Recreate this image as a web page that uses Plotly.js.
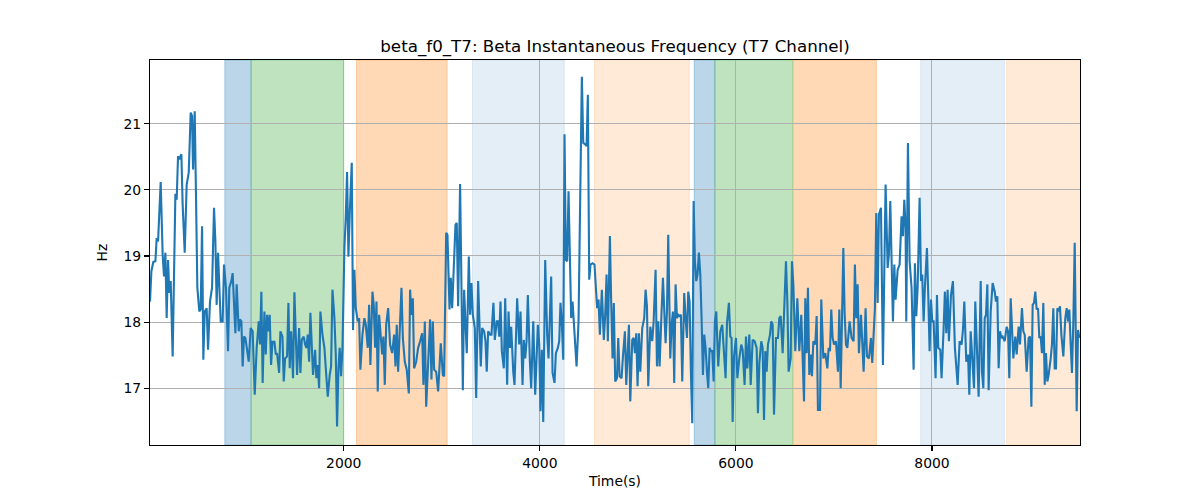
<!DOCTYPE html>
<html>
<head>
<meta charset="utf-8">
<script src="https://cdn.plot.ly/plotly-3.0.1.min.js"></script>
<style>html,body{margin:0;padding:0;background:#fff;}#chart{width:1200px;height:500px;}</style>
</head>
<body>
<div id="chart"></div>
<script>
// time (s) of each sample
const time = [
24,38,58,79,92,106,133,153,167,181,194,208,221,235,255,283,296,310,323,344,357,378,398,419,439,453,463,480,493,507,527,541,555,568,582,602,616,636,657,677,691,704,718,731,745,765,779,799,820,833,854,867,881,895,908,929,942,956,969,983,997,1010,1031,1051,1071,1092,1112,1133,1146,1160,1173,
1191,1205,1218,1232,1245,1259,1273,1293,1307,1320,1341,1354,1375,1388,1402,1422,1436,1449,1463,1483,1497,1511,1524,1545,1558,1572,1592,1606,1619,1633,1647,1660,1674,1687,1708,1721,1735,1749,1762,1783,1803,1823,1837,1857,1871,1885,1905,1919,1932,1946,1959,1973,1987,2007,2021,2034,2048,2061,2082,2095,2109,2123,2143,2157,2170,2191,2211,2225,2245,2259,2272,2293,2306,2320,2334,2347,2361,2374,
2392,2405,2419,2433,2453,2473,2494,2514,2528,2541,2555,2575,2589,2603,2623,2643,2664,2677,2691,2705,2718,2739,2759,2779,2800,2813,2827,2841,2861,2881,2895,2909,2922,2943,2963,2977,2990,3011,3024,3045,3058,3079,3092,3106,3126,3140,3153,3167,3187,3201,3215,3228,3242,3255,3276,3289,3303,3317,3337,3351,3371,3385,3398,3412,3432,3446,3459,3473,3493,3507,3527,3541,3561,3575,
3586,3599,3613,3633,3647,3667,3681,3695,3708,3729,3742,3769,3790,3803,3824,3837,3851,3865,3878,3899,3912,3933,3953,3980,3994,4007,4021,4035,4055,4075,4089,4116,4130,4150,4164,4184,4198,4211,4225,4239,4252,4266,4279,4293,4307,4320,4334,4354,4375,4395,4415,4429,4443,4463,4477,4490,4504,4517,4538,4558,4572,4585,4599,4613,4633,4653,4667,4681,4694,4715,4728,4742,4755,4769,
4787,4800,4814,4834,4848,4868,4882,4895,4909,4923,4943,4957,4970,4984,4997,5011,5025,5045,5065,5079,5093,5106,5127,5147,5161,5181,5195,5208,5222,5242,5256,5283,5297,5310,5331,5344,5358,5371,5385,5399,5412,5426,5439,5453,5473,5487,5501,5514,5528,5541,5555,5569,5582,5596,5609,5623,5637,5650,5664,5677,5691,5705,5718,5732,5745,5759,5773,5786,5800,5820,5841,5861,5875,5895,5909,5929,5943,5956,
5967,5981,6001,6015,6035,6055,6069,6089,6103,6117,6137,6151,6171,6191,6212,6225,6239,6259,6273,6287,6300,6314,6327,6348,6361,6375,6389,6409,6429,6443,6457,6477,6491,6511,6525,6538,6559,6572,6586,6606,6627,6647,6667,6681,6695,6708,6722,6735,6749,6763,6776,6790,6810,6824,6837,6858,6871,6892,6912,6933,6946,6960,6973,6987,7001,7021,7041,7055,7069,7082,7096,7109,7123,7137,7150,
7160,7180,7201,7214,7228,7242,7255,7276,7289,7303,7323,7337,7357,7378,7391,7405,7418,7432,7446,7459,7480,7500,7514,7527,7548,7561,7575,7588,7602,7616,7629,7650,7670,7690,7704,7718,7731,7738,7755,7772,7792,7813,7826,7840,7854,7874,7888,7901,7915,7928,7949,7962,7976,7990,8003,8017,8037,8051,8064,8085,8098,8119,8132,8146,8160,8173,8194,8214,8234,8262,8282,8302,8316,8330,8350,
8368,8381,8395,8415,8429,8442,8456,8476,8497,8510,8524,8538,8551,8565,8578,8599,8619,8640,8653,8667,8680,8694,8708,8721,8742,8762,8776,8789,8803,8816,8830,8850,8864,8884,8898,8918,8932,8946,8966,8986,9000,9014,9027,9041,9054,9068,9082,9095,9109,9122,9136,9150,9163,9177,9190,9211,9224,9238,9252,9265,9279,9292,9306,9320,9340,9360,9374,9388,9401,9415,9428,9442,9456,9476,9490,9503
];
// beta instantaneous frequency (Hz)
const hz = [
18.31,18.77,18.91,18.92,19.27,19.22,20.12,19.02,18.69,19.05,18.06,18.94,18.44,18.62,17.48,19.94,19.85,20.51,20.46,20.54,19.78,19.05,20.08,20.26,21.17,21.12,20.31,21.19,19.93,18.52,18.16,18.19,19.45,17.43,18.16,18.21,17.58,18.31,18.52,19.73,19.22,18.26,19.05,18.52,18.01,18.01,18.87,18.52,17.56,18.52,18.62,18.74,18.21,17.83,18.57,17.86,18.04,18.01,17.33,17.78,17.76,17.61,17.40,17.91,17.86,16.90,17.61,18.01,17.66,18.46,17.08,
18.16,17.51,18.11,17.86,18.11,17.35,17.70,17.70,17.51,17.53,17.23,17.86,17.78,17.10,17.45,17.48,18.29,17.30,17.86,17.15,18.45,17.86,17.20,17.91,17.23,17.73,17.78,17.66,17.61,17.81,17.40,18.14,17.66,17.20,17.58,17.15,17.35,17.00,18.16,17.81,17.61,17.20,16.87,17.20,17.33,18.49,18.06,17.51,16.42,17.30,17.61,17.18,17.61,19.12,19.58,20.27,18.99,19.63,20.41,17.88,18.79,18.21,18.01,18.06,17.28,17.81,18.06,17.96,17.61,18.26,17.35,18.46,18.26,17.61,18.31,16.95,18.11,17.86,
17.51,17.78,17.05,17.96,18.21,17.66,17.53,17.81,17.33,17.96,17.25,18.01,18.52,17.76,17.40,17.28,16.92,18.49,18.11,18.36,17.30,17.40,17.61,17.71,17.83,17.05,18.01,16.72,17.51,18.04,17.13,18.01,17.28,17.25,16.95,17.45,17.68,17.20,17.18,19.35,19.32,18.19,18.67,18.21,18.92,19.47,19.50,18.24,20.09,18.52,16.97,18.49,18.06,17.53,18.99,18.11,18.59,18.11,17.91,16.85,18.62,17.81,17.33,17.91,17.86,17.71,17.25,17.86,17.81,17.81,18.29,17.73,18.01,18.01,
17.78,18.31,17.56,17.30,18.36,17.05,18.16,17.61,17.93,17.25,17.05,18.36,17.66,18.16,17.05,17.73,17.45,17.71,18.41,17.40,17.00,18.01,16.90,17.96,17.66,16.65,17.58,16.49,18.94,17.81,17.45,18.69,17.23,17.08,17.53,17.61,17.71,18.29,17.98,17.43,20.84,18.94,18.92,19.98,18.82,18.06,18.31,17.76,17.33,18.01,20.54,21.71,20.71,20.69,20.66,21.44,18.64,18.87,18.89,18.87,18.52,18.21,18.34,17.81,18.49,17.73,18.11,18.72,17.71,19.30,18.31,17.45,18.29,17.10,
17.15,17.76,17.18,17.15,17.48,17.86,17.05,17.51,17.96,16.80,17.73,17.76,17.53,17.83,17.03,17.83,17.25,17.91,18.06,18.49,18.24,17.03,17.93,17.71,18.01,18.79,17.33,18.01,17.33,18.16,18.67,17.68,18.16,19.32,17.45,17.96,18.16,17.08,18.57,18.06,18.11,18.09,18.11,17.10,18.44,18.06,17.76,18.46,18.31,17.25,16.47,19.83,18.92,18.62,18.72,19.05,18.72,18.06,17.20,17.81,17.61,17.25,17.00,17.61,17.56,17.56,17.10,18.01,18.16,17.33,17.86,17.96,17.53,17.15,17.98,18.29,17.78,17.76,
16.49,17.48,17.76,17.15,17.45,17.66,17.58,17.05,17.78,17.30,17.81,17.05,17.73,17.71,17.61,16.62,17.38,17.71,17.61,16.52,17.56,17.25,17.66,17.81,18.01,17.96,16.60,17.76,17.76,18.06,18.09,17.53,18.11,18.92,18.31,17.25,17.45,18.92,18.57,17.56,18.36,17.56,18.11,17.56,16.80,18.36,17.53,18.52,17.20,17.51,17.18,17.71,17.66,18.09,16.67,16.67,18.34,17.45,17.53,17.30,17.61,17.56,18.19,17.76,17.66,17.71,17.25,18.19,17.00,18.01,19.12,18.14,17.66,17.61,17.78,
18.01,17.76,17.71,18.87,18.06,18.57,17.53,18.11,17.56,17.25,18.21,17.48,17.45,17.76,17.38,17.91,18.21,19.65,18.29,19.63,19.73,17.35,19.27,20.08,18.82,19.02,19.83,18.82,18.01,18.87,18.34,18.79,18.87,19.60,19.30,19.85,19.42,18.01,20.71,18.92,18.52,17.28,18.89,18.09,18.52,19.88,18.62,18.72,18.01,18.52,19.12,18.41,17.56,18.34,18.01,18.01,17.15,18.41,17.61,17.58,17.15,17.91,18.46,17.83,18.49,17.71,18.41,18.62,17.61,17.05,17.71,17.66,17.88,18.31,17.40,
17.51,16.90,17.86,17.25,17.00,18.31,17.61,16.87,18.62,17.25,17.00,18.06,18.11,18.57,16.97,18.16,18.59,18.46,18.31,18.39,17.30,17.86,17.76,17.78,17.71,17.93,17.86,17.15,18.36,17.76,17.45,17.78,17.51,17.93,17.66,18.21,17.86,17.81,17.25,17.76,17.78,16.72,18.26,18.29,18.46,18.19,18.21,17.76,17.78,17.53,18.29,17.05,17.53,17.10,17.20,17.45,17.66,18.21,17.30,17.30,18.21,18.16,18.24,17.81,17.48,18.06,18.21,18.01,18.19,17.66,17.23,18.01,19.20,16.65,17.88,17.76
];

// shaded segments
const segStart = [787, 1055, 2130, 3313, 4558, 5575, 5786, 6585, 7885, 8762];
const segEnd   = [1055, 2000, 3055, 4250, 5525, 5786, 6579, 7433, 8739, 9600];
const segKind  = ['blue', 'green', 'orange', 'lightblue', 'lightorange', 'blue', 'green', 'orange', 'lightblue', 'lightorange'];

const xTicks = [2000, 4000, 6000, 8000];
const yTicks = [17, 18, 19, 20, 21];

const kindColor = {
  blue: 'rgba(31,119,180,0.3)',
  green: 'rgba(44,160,44,0.3)',
  orange: 'rgba(255,127,14,0.3)',
  lightblue: 'rgba(31,119,180,0.12)',
  lightorange: 'rgba(255,127,14,0.16)'
};

const shapes = segStart.map((s, i) => ({
  type: 'rect', xref: 'x', yref: 'paper', x0: s, x1: segEnd[i], y0: 0, y1: 1,
  fillcolor: kindColor[segKind[i]],
  line: {color: kindColor[segKind[i]], width: 1},
  layer: 'below'
}));

const font = 'DejaVu Sans, Arial, sans-serif';

const trace = {
  x: time, y: hz, type: 'scatter', mode: 'lines',
  line: {color: '#1f77b4', width: 2.1},
  hoverinfo: 'skip'
};

const layout = {
  width: 1200, height: 500,
  margin: {l: 150, r: 120, t: 60, b: 55},
  paper_bgcolor: '#ffffff', plot_bgcolor: 'rgba(0,0,0,0)',
  showlegend: false,
  font: {family: font, size: 14, color: '#000'},
  title: {text: 'beta_f0_T7: Beta Instantaneous Frequency (T7 Channel)', font: {family: font, size: 16.7, color: '#000'},
          x: 0.5125, xanchor: 'center', y: 0.908, yanchor: 'middle'},
  xaxis: {
    range: [24, 9510], tickvals: xTicks, ticktext: xTicks.map(String),
    showgrid: true, gridcolor: '#b0b0b0', gridwidth: 1, zeroline: false,
    showline: true, linecolor: '#000', linewidth: 1.1, mirror: true,
    ticks: 'outside', ticklen: 5, tickwidth: 1.1, tickcolor: '#000',
    tickfont: {family: font, size: 13.9, color: '#000'},
    title: {text: 'Time(s)', font: {family: font, size: 13.9, color: '#000'}, standoff: 6}
  },
  yaxis: {
    range: [16.14, 21.965], tickvals: yTicks, ticktext: yTicks.map(String),
    showgrid: true, gridcolor: '#b0b0b0', gridwidth: 1, zeroline: false,
    showline: true, linecolor: '#000', linewidth: 1.1, mirror: true,
    ticks: 'outside', ticklen: 5, tickwidth: 1.1, tickcolor: '#000',
    tickfont: {family: font, size: 13.9, color: '#000'},
    title: {text: 'Hz', font: {family: font, size: 13.9, color: '#000'}, standoff: 12}
  },
  shapes: shapes
};

Plotly.newPlot('chart', [trace], layout, {staticPlot: true, displayModeBar: false});
</script>
</body>
</html>
